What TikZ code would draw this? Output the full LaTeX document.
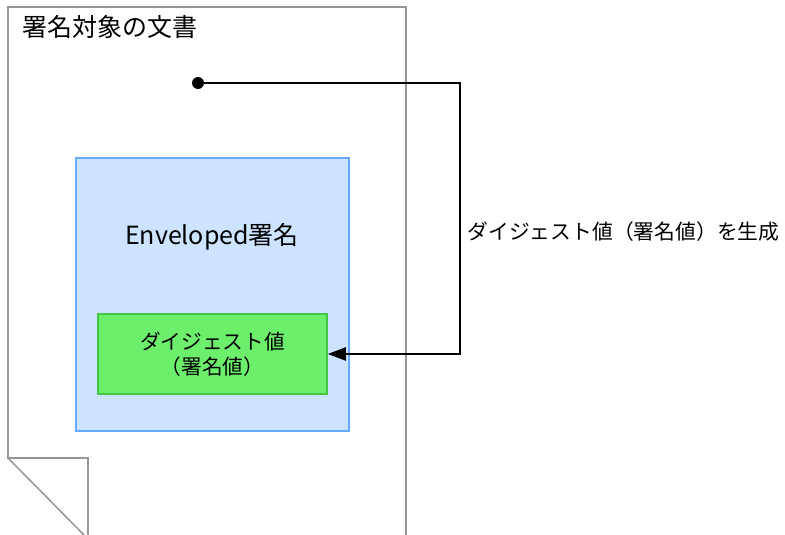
\documentclass[tikz,border=0pt]{standalone}
\usepackage{fontspec}
\setmainfont{Noto Sans CJK JP}
\usetikzlibrary{arrows.meta,shapes}

\begin{document}
\begin{tikzpicture}[x=1pt,y=-1pt]
		
		\definecolor{docgray}{RGB}{150,150,150}
		\definecolor{envblue}{RGB}{102,170,255}
		\definecolor{envfill}{RGB}{204,228,255}
		\definecolor{digestline}{RGB}{68,196,68}
		\definecolor{digestfill}{RGB}{108,240,108}
		
		\useasboundingbox (0,0) rectangle (785,535);
		
		\tikzstyle{edge} = [draw,-,line width=2pt]
		
		% document sheet with folded corner
		\draw[docgray, line width=1.5pt] (88,535) -- (88,458) -- (8,458) -- (8,7) -- (406,7) -- (406,535);
		\draw[docgray, line width=1.5pt] (8,458) -- (84,535);
		
		\node[anchor=west, font=\fontsize{25}{29}\selectfont] (title) at (19,27) {署名対象の文書};
		
		\tikzset{box/.style = {shape=rectangle,draw,line width=1.5pt,inner sep=0pt,align=center}}
		\node[box, draw=envblue, fill=envfill, minimum width=273pt, minimum height=273pt] (env) at (212.5,294.5) {};
		\node[font=\fontsize{25}{29}\selectfont] (envtext) at (212,237) {Enveloped署名};
		\node[box, draw=digestline, fill=digestfill, minimum width=229pt, minimum height=80pt, font=\fontsize{20.7}{25}\selectfont] (digest) at (212.5,354) {ダイジェスト値\\（署名値）};
		
		\node[shape=circle, fill, inner sep=0pt, minimum size=12pt] (src) at (198,83) {};
		\coordinate (turn) at (460,83);
		\node[anchor=west, font=\fontsize{20.8}{24}\selectfont] (genlabel) at (464,232) {ダイジェスト値（署名値）を生成};
		
		\draw[edge, -{Triangle[length=18pt,width=13pt]}] (src) -- (turn) |- (digest.east);
		
\end{tikzpicture}
\end{document}
